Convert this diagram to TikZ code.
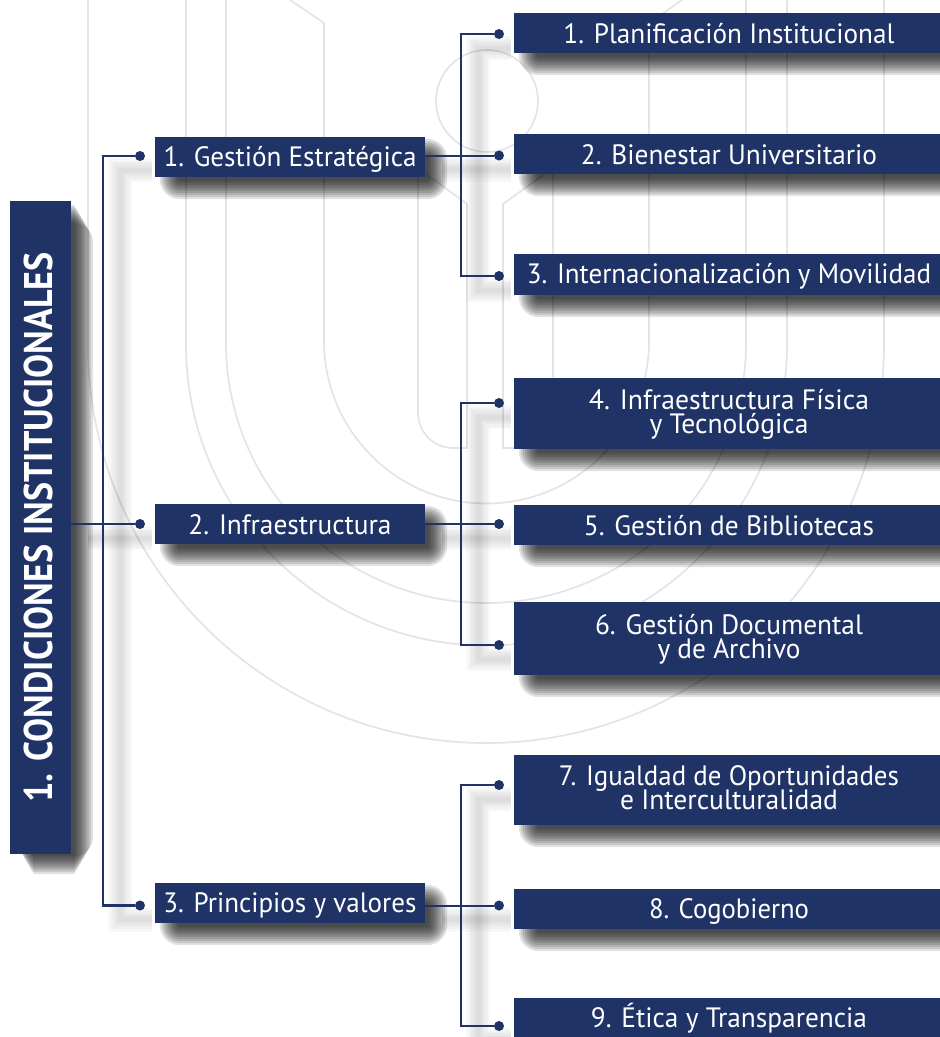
\documentclass[tikz,border=0pt]{standalone}
\usepackage{fontspec}
\usepackage{graphicx}
\usetikzlibrary{calc}
\setmainfont{PT Sans}
\definecolor{navy}{HTML}{203366}
\definecolor{wmark}{HTML}{E4E4E4}
\pgfdeclarelayer{under}
\pgfsetlayers{under,main}
% one printed line, stretched to the width it has in the picture, on a fixed strut
\newcommand\fitone[2]{\rule[-4pt]{0pt}{28pt}\resizebox{#1pt}{\height}{#2}}
\newcommand\fitpair[4]{\vbox{\offinterlineskip
  \hbox to 420pt{\hss\rule{0pt}{21pt}\smash{\resizebox{#1pt}{\height}{#2}}\hss}
  \hbox to 420pt{\hss\rule[-6pt]{0pt}{30pt}\smash{\resizebox{#3pt}{\height}{#4}}\hss}}}
\newcommand\softshadow[1]{%
  \begin{pgfonlayer}{under}
  \foreach \e [evaluate=\e as \r using {\e+10}] in {-8,-6,...,10}{
    \fill[black,fill opacity=.115,rounded corners=\r pt]
      ([xshift=15pt-\e pt,yshift=-12pt+\e pt]#1.north west) rectangle
      ([xshift=12pt+\e pt,yshift=-12pt-\e pt]#1.south east);
  }
  \end{pgfonlayer}}
\newcommand\lineshadow[1]{%
  \begin{pgfonlayer}{under}
  \foreach \w in {24,19,14,9,5}{
    \draw[black,draw opacity=.028,line width=\w pt,transform canvas={xshift=17pt,yshift=-14pt}] #1;
  }
  \end{pgfonlayer}}
\tikzset{
  wm/.style={draw=wmark,line width=1.7pt},
  conn/.style={draw=navy,line width=2.3pt},
  thin conn/.style={draw=navy,line width=2pt},
  dotnode/.style={circle,fill=navy,minimum size=10pt,inner sep=0pt},
  basebox/.style={fill=navy,text=white,inner sep=0pt,font=\fontsize{28}{24}\selectfont},
  midbox/.style={basebox,minimum width=270pt,minimum height=40pt},
  endbox/.style={basebox,minimum width=430pt},
  rootbox/.style={fill=navy,text=white,inner sep=0pt,minimum width=653pt,minimum height=61pt,
    rotate=90,font=\fontsize{40}{40}\selectfont\bfseries}
}
\begin{document}
\begin{tikzpicture}[x=1pt,y=-1pt]
\useasboundingbox (0,0) rectangle (940,1037);
\clip (0,0) rectangle (940,1037);

% watermark
\begin{pgfonlayer}{under}
\draw[wm] (88,0) -- (88,345) arc[start angle=180,end angle=360,radius=398pt] -- (884,0);
\draw[wm] (186,0) -- (186,345) arc[start angle=180,end angle=360,radius=300.5pt] -- (787,0);
\draw[wm] (226,0) -- (226,343) arc[start angle=180,end angle=360,radius=260pt] -- (746,0);
\draw[wm] (290,0) -- (324,23) -- (324,341) arc[start angle=180,end angle=360,radius=162.5pt] -- (649,23) -- (682,0);
\draw[wm] (467,448) -- (467,204) -- (418,168) -- (418,413) arc[start angle=180,end angle=270,radius=35pt] -- cycle;
\draw[wm] (503,448) -- (503,204) -- (553,168) -- (553,413) arc[start angle=360,end angle=270,radius=35pt] -- cycle;
\draw[wm] (487,101) circle[radius=51pt];
\end{pgfonlayer}

% boxes
\node[rootbox] (root) at (40.5,527.5) {\rule[-4pt]{0pt}{30pt}\resizebox{550pt}{\height}{1. CONDICIONES INSTITUCIONALES}};

\node[midbox] (m1) at (290,157) {\fitone{253}{1. Gestión Estratégica}};
\node[midbox] (m2) at (290,524) {\fitone{203}{2. Infraestructura}};
\node[midbox] (m3) at (290,903) {\fitone{253}{3. Principios y valores}};

\node[endbox,minimum height=40pt] (e1) at (729,33) {\fitone{331}{1. Planificación Institucional}};
\node[endbox,minimum height=40pt] (e2) at (729,154) {\fitone{296}{2. Bienestar Universitario}};
\node[endbox,minimum height=41pt] (e3) at (729,274.5) {\fitone{404}{3. Internacionalización y Movilidad}};
\node[endbox,minimum height=71pt] (e4) at (729,413.5) {\fitpair{280}{4. Infraestructura Física}{159}{y Tecnológica}};
\node[endbox,minimum height=40pt] (e5) at (729,525) {\fitone{290}{5. Gestión de Bibliotecas}};
\node[endbox,minimum height=73pt] (e6) at (729,638.5) {\fitpair{268}{6. Gestión Documental}{143}{y de Archivo}};
\node[endbox,minimum height=70pt] (e7) at (729,790) {\fitpair{340}{7. Igualdad de Oportunidades}{218}{e Interculturalidad}};
\node[endbox,minimum height=40pt] (e8) at (729,909) {\fitone{160}{8. Cogobierno}};
\node[endbox,minimum height=40pt] (e9) at (729,1018) {\fitone{276}{9. Ética y Transparencia}};

\foreach \n in {root,m1,m2,m3,e1,e2,e3,e4,e5,e6,e7,e8,e9}{\softshadow{\n}}

% dots
\node[dotnode] (da) at (140,156) {};
\node[dotnode] (db) at (140,524) {};
\node[dotnode] (dc) at (140,905.5) {};
\node[dotnode] (d1) at (499,34) {};
\node[dotnode] (d2) at (499,155.5) {};
\node[dotnode] (d3) at (499,276) {};
\node[dotnode] (d4) at (499,403) {};
\node[dotnode] (d5) at (499,524) {};
\node[dotnode] (d6) at (499,645) {};
\node[dotnode] (d7) at (499,785) {};
\node[dotnode] (d8) at (499,905.5) {};
\node[dotnode] (d9) at (499,1026) {};

\coordinate (trunk) at (103,524);
\coordinate (busa) at (461,155.5);
\coordinate (busb) at (461,524);
\coordinate (busc) at (461,905.5);

% connector shadows
\lineshadow{(da) -| (trunk) |- (dc)}
\lineshadow{(root.south |- db) -- (db)}
\lineshadow{(d1) -| (busa) |- (d3)}
\lineshadow{(m1.east |- d2) -- (d2)}
\lineshadow{(d4) -| (busb) |- (d6)}
\lineshadow{(m2.east |- d5) -- (d5)}
\lineshadow{(d7) -| (busc) |- (d9)}
\lineshadow{(m3.east |- d8) -- (d8)}

% connectors
\draw[conn] (da) -| (trunk) |- (dc);
\draw[thin conn] (root.south |- db) -- (db);
\draw[conn] (d1) -| (busa) |- (d3);
\draw[thin conn] (m1.east |- d2) -- (d2);
\draw[conn] (d4) -| (busb) |- (d6);
\draw[thin conn] (m2.east |- d5) -- (d5);
\draw[conn] (d7) -| (busc) |- (d9);
\draw[thin conn] (m3.east |- d8) -- (d8);
\end{tikzpicture}
\end{document}
